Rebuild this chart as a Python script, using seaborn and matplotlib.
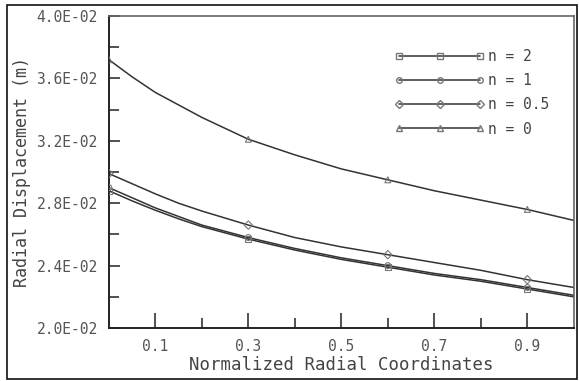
import numpy as np
import pandas as pd
import matplotlib
matplotlib.use("Agg")
import matplotlib.pyplot as plt
from matplotlib.lines import Line2D
from matplotlib.patches import Rectangle
from matplotlib.ticker import MultipleLocator, FixedLocator, FuncFormatter
import seaborn as sns

# ── Data ──────────────────────────────────────────────────────────────────────
r_norm    = [0.0, 0.05, 0.1, 0.15, 0.2, 0.3, 0.4, 0.5, 0.6, 0.7, 0.8, 0.9, 1.0]
disp_n0   = [0.0372, 0.0361, 0.0351, 0.0343, 0.0335, 0.0321, 0.0311, 0.0302, 0.0295, 0.0288, 0.0282, 0.0276, 0.0269]
disp_n05  = [0.0299, 0.02925, 0.0286, 0.0280, 0.0275, 0.0266, 0.0258, 0.0252, 0.0247, 0.0242, 0.0237, 0.0231, 0.0226]
disp_n1   = [0.0290, 0.02835, 0.0277, 0.02715, 0.0266, 0.0258, 0.0251, 0.0245, 0.0240, 0.0235, 0.0231, 0.0226, 0.0221]
disp_n2   = [0.0288, 0.02815, 0.02755, 0.0270, 0.0265, 0.0257, 0.0250, 0.0244, 0.0239, 0.0234, 0.0230, 0.0225, 0.0220]
marker_r  = [0.0, 0.3, 0.6, 0.9]   # sampled points carrying markers

series = [("n = 2", disp_n2, "s"),
          ("n = 1", disp_n1, "o"),
          ("n = 0.5", disp_n05, "D"),
          ("n = 0", disp_n0, "^")]

LINE_CLR = "#333333"
MK_CLR = "#777777"
TXT_CLR = "#555555"

sns.set_theme(style="ticks")
plt.rcParams["font.family"] = ["DejaVu Sans Mono", "DejaVu Sans"]

fig = plt.figure(figsize=(5.79, 3.81), dpi=100)
ax = fig.add_axes([0.188, 0.139, 0.803, 0.819])

handles = []
for label, vals, mk in series:
    df = pd.DataFrame({"r": r_norm, "u": vals})
    sns.lineplot(data=df, x="r", y="u", ax=ax, color=LINE_CLR, linewidth=1.1)
    pts = df[df["r"].isin(marker_r)]
    sns.scatterplot(data=pts, x="r", y="u", ax=ax, marker=mk, s=18,
                    facecolor="none", edgecolor=MK_CLR, linewidth=0.8, zorder=3)
    handles.append(Line2D([0], [0], color=LINE_CLR, linewidth=1.1, marker=mk,
                          markersize=4, markerfacecolor="none",
                          markeredgecolor=MK_CLR, label=label))

ax.set_xlim(0, 1.0)
ax.set_ylim(0.020, 0.040)

ax.xaxis.set_major_locator(FixedLocator([0.1, 0.3, 0.5, 0.7, 0.9]))
ax.xaxis.set_minor_locator(FixedLocator([0.2, 0.4, 0.6, 0.8]))
ax.xaxis.set_major_formatter(FuncFormatter(lambda v, p: f"{v:.1f}"))
ax.yaxis.set_major_locator(MultipleLocator(0.004))
ax.yaxis.set_minor_locator(MultipleLocator(0.002))
ax.yaxis.set_major_formatter(FuncFormatter(lambda v, p: f"{v:.1E}"))

ax.tick_params(axis="x", which="major", direction="in", length=11, width=1.2,
               color=LINE_CLR, labelsize=10.5, labelcolor=TXT_CLR, pad=8)
ax.tick_params(axis="x", which="minor", direction="in", length=7, width=1.2,
               color=LINE_CLR)
ax.tick_params(axis="y", which="major", direction="in", length=8, width=1.2,
               color=LINE_CLR, labelsize=10.5, labelcolor=TXT_CLR, pad=8)
ax.tick_params(axis="y", which="minor", direction="in", length=7, width=1.2,
               color=LINE_CLR)

for side in ["left", "bottom"]:
    ax.spines[side].set_color("#222222")
    ax.spines[side].set_linewidth(1.4)
for side in ["top", "right"]:
    ax.spines[side].set_color("#666666")
    ax.spines[side].set_linewidth(1.2)

ax.set_xlabel("Normalized Radial Coordinates", fontsize=12.5, color="#444444", labelpad=1)
ax.set_ylabel("Radial Displacement (m)", fontsize=12, color="#444444", labelpad=4)

leg = ax.legend(handles=handles, loc="upper right", bbox_to_anchor=(0.975, 0.935),
                frameon=False, fontsize=10.5, handlelength=6.2, numpoints=3,
                handletextpad=0.2, labelspacing=0.62)
for t in leg.get_texts():
    t.set_color("#444444")

# outer frame around the whole picture
fig.patches.append(Rectangle((7 / 579, 1 - 379 / 381), 570 / 579, 374 / 381,
                             transform=fig.transFigure, fill=False,
                             edgecolor="#111111", linewidth=1.2))

fig.savefig("out.png", dpi=100, facecolor="white")
